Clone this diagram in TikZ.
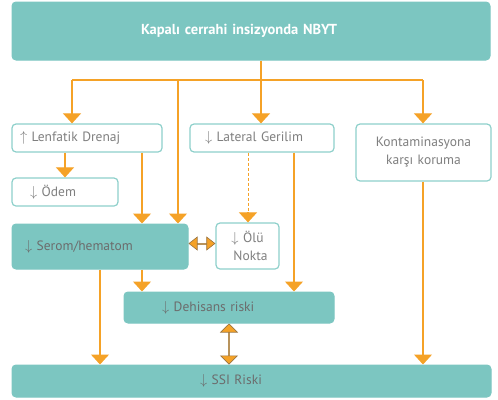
\documentclass[tikz,border=0pt]{standalone}
\usepackage{fontspec}
\setmainfont{PT Sans}
\usetikzlibrary{arrows.meta}

\definecolor{tealbox}{HTML}{7CC6C1}
\definecolor{tealline}{HTML}{8ED0CB}
\definecolor{orng}{HTML}{F5A227}
\definecolor{txtgray}{HTML}{7F7F7F}
\definecolor{shaftbrown}{HTML}{B8935C}
\definecolor{tipedge}{HTML}{9A7440}

\tikzset{
  fillbox/.style={draw=tealbox, fill=tealbox, rounded corners=4pt, line width=1pt,
    text=txtgray!85!black, font=\fontsize{13.5}{18}\selectfont, inner ysep=0pt, align=left},
  whitebox/.style={draw=tealline, fill=white, rounded corners=4pt, line width=1.2pt,
    text=txtgray, font=\fontsize{13.5}{18}\selectfont, inner ysep=0pt, align=left},
  flow/.style={draw=orng, line width=1.1pt, -{Triangle[width=18pt,length=10pt,fill=orng,line width=1.1pt]}},
  both/.style={draw=shaftbrown, line width=2pt,
    {Triangle[width=#1,length=9pt,fill=orng,color=tipedge,line width=0.6pt]}-{Triangle[width=#1,length=9pt,fill=orng,color=tipedge,line width=0.6pt]}}
}

\begin{document}
\begin{tikzpicture}[x=1pt,y=-1pt]
  \useasboundingbox (0,0) rectangle (498,399);

  % boxes
  \node[fillbox, text=white, font=\bfseries\fontsize{14.5}{16}\selectfont,
    minimum width=478pt, minimum height=58pt, text width=220pt, inner xsep=129pt] (top) at (251,31) {Kapalı cerrahi insizyonda NBYT};
  \node[whitebox, minimum width=150pt, minimum height=28pt, text width=134pt, inner xsep=8pt] (lenf) at (87,138) {$\uparrow$ Lenfatik Drenaj};
  \node[whitebox, minimum width=144pt, minimum height=28pt, text width=114pt, inner xsep=15pt] (lat) at (262,138) {$\downarrow$ Lateral Gerilim};
  \node[whitebox, minimum width=135pt, minimum height=57pt, text width=125pt, inner xsep=5pt, align=center] (kont) at (423.5,152.5) {Kontaminasyona\\karşı koruma};
  \node[whitebox, minimum width=106pt, minimum height=28pt, text width=70pt, inner xsep=18pt] (odem) at (65,192) {$\downarrow$ Ödem};
  \node[fillbox, minimum width=176pt, minimum height=45pt, text width=150pt, inner xsep=13pt] (serom) at (100,246.5) {$\downarrow$ Serom/hematom};
  \node[whitebox, minimum width=63pt, minimum height=46pt, text width=57pt, inner xsep=3pt, align=center] (olu) at (247.5,246) {$\downarrow$ Ölü\\\hspace*{6pt}Nokta};
  \node[fillbox, minimum width=210pt, minimum height=31pt, text width=134pt, inner xsep=38pt] (deh) at (229,307.5) {$\downarrow$ Dehisans riski};
  \node[fillbox, minimum width=479pt, minimum height=32pt, text width=103pt, inner xsep=188pt] (ssi) at (251.5,381) {$\downarrow$ SSI Riski};

  % bus below the top box
  \coordinate (bus) at (261,80);
  \coordinate (busL) at (72,80);
  \coordinate (busS) at (178,80);
  \coordinate (busR) at (423,80);
  \draw[orng, line width=1.1pt] (top.south -| bus) -- (bus);
  \draw[orng, line width=1.1pt] (busL) -- (busR);
  \draw[flow] (busL) -- (busL |- lenf.north);
  \draw[flow] (bus) -- (bus |- lat.north);
  \draw[flow] (busR) -- (busR |- kont.north);
  \draw[flow] (busS) -- (busS |- serom.north);

  % connectors
  \draw[flow] ([xshift=-22pt]lenf.south) -- ([xshift=-22pt]lenf.south |- odem.north);
  \draw[flow] ([xshift=55pt]lenf.south) -- ([xshift=55pt]lenf.south |- serom.north);
  \coordinate (dot) at ([xshift=-14pt]lat.south);
  \draw[orng, line width=0.6pt, densely dashed] (dot) -- ([yshift=10pt]dot |- olu.north);
  \draw[flow] ([yshift=10.5pt]dot |- olu.north) -- (dot |- olu.north);
  \draw[flow] ([xshift=32pt]lat.south) -- ([xshift=32pt]lat.south |- deh.north);
  \draw[flow] ([xshift=42pt]serom.south) -- ([xshift=42pt]serom.south |- deh.north);
  \draw[flow] (serom.south) -- (serom.south |- ssi.north);
  \draw[flow] (kont.south -| busR) -- (busR |- ssi.north);

  % two-way links
  \draw[both=14pt] ([yshift=3pt]serom.east) -- ([yshift=3pt]serom.east -| olu.west);
  \draw[both=18pt] (deh.south) -- (deh.south |- ssi.north);
\end{tikzpicture}
\end{document}
